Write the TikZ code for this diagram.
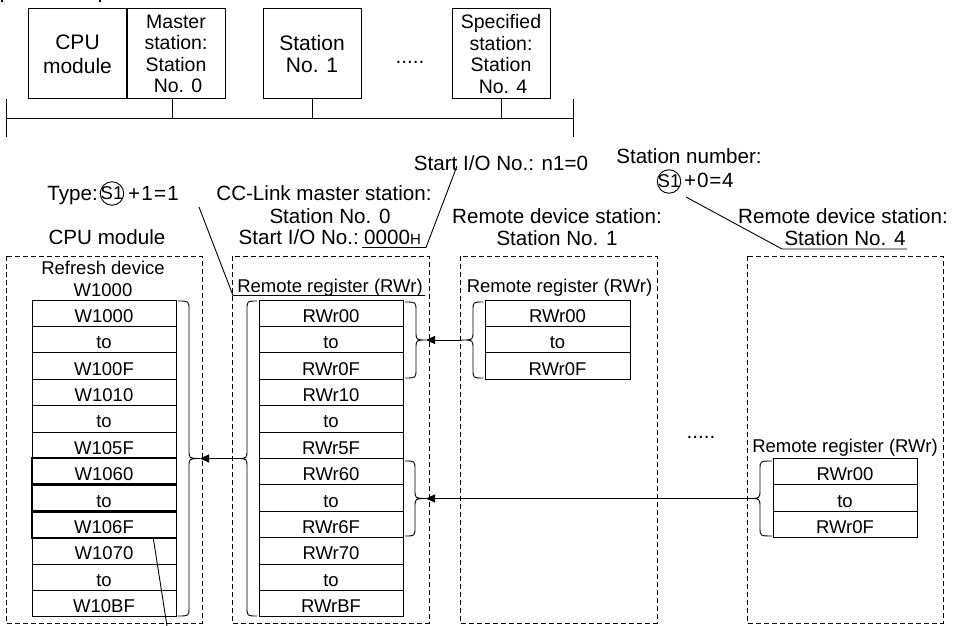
\documentclass[tikz,border=0pt]{standalone}
\usepackage{fontspec}
\setmainfont{Liberation Sans}
\usetikzlibrary{arrows.meta,calc}
\newcommand{\hf}{\fontsize{20.6}{22}\selectfont}
\newcommand{\cf}{\fontsize{18.5}{21}\selectfont}
% brace: x0, y0, y1, xv (spine), xt (tip)
\newcommand{\brc}[5]{%
  \draw[ln] (#1,#2) .. controls (#4,#2) .. (#4,#2+9)
    -- (#4,{(#2+#3)/2-9}) .. controls (#4,{(#2+#3)/2}) .. (#5,{(#2+#3)/2})
    .. controls (#4,{(#2+#3)/2}) .. (#4,{(#2+#3)/2+9})
    -- (#4,#3-9) .. controls (#4,#3) .. (#1,#3);}
\begin{document}
\begin{tikzpicture}[x=1pt,y=-1pt,
  every node/.style={inner sep=0pt, text=black},
  hd/.style={anchor=base, font=\hf},
  rl/.style={anchor=base, font=\cf},
  cell/.style={draw, line width=0.9pt, minimum width=144pt, minimum height=26.4pt,
    text height=18pt, text depth=0pt, font=\cf},
  frame/.style={draw, line width=0.9pt, dash pattern=on 5pt off 3pt},
  topbox/.style={draw, line width=1pt, minimum width=98pt, minimum height=90pt,
    align=center, font=\fontsize{19.5}{21.5}\selectfont},
  ln/.style={line width=0.9pt},
  arr/.style={line width=0.9pt, -{Triangle[length=9pt,width=8pt]}},
  circ/.style={draw, circle, line width=0.9pt, inner sep=-2.5pt, minimum size=23.5pt,
    font=\fontsize{18.5}{18.5}\selectfont},
]
\useasboundingbox (0,0) rectangle (954,626);

% cut-off heading fragments
\draw[line width=1.5pt] (2,0) -- (2,2.5);
\draw[line width=1.5pt] (100,0) -- (100,2.5);

% ---------- system configuration ----------
\node[topbox, font=\fontsize{21}{24}\selectfont] (cpu) at (77.5,54) {CPU\\module};
\node[topbox] (mst) at (176,54) {Master\\station:\\Station\\\hspace{4pt}No. 0};
\node[topbox, font=\fontsize{21}{22.5}\selectfont] (st1) at (312,54) {Station\\No. 1};
\node[font=\hf] (dots1) at (410,62) {.....};
\node[topbox] (spec) at (501,54) {Specified\\station:\\Station\\\hspace{4pt}No. 4};

\coordinate (busL) at (6,118);
\coordinate (busR) at (573,118);
\draw[ln] (6,99) -- (6,137);
\draw[ln] (573,99) -- (573,137);
\draw[ln] (busL) -- (busR);
\draw[ln] ([xshift=-4pt]mst.south) -- ([xshift=-4pt]mst.south |- busL);
\draw[ln] (st1.south) -- (st1.south |- busL);
\draw[ln] (spec.south) -- (spec.south |- busL);

% ---------- frames ----------
\draw[frame] (6,256) rectangle (202,623);
\draw[frame] (232,256) rectangle (429,623);
\draw[frame] (460,256) rectangle (657,623);
\draw[frame] (747,256) rectangle (943,623);

% ---------- headings ----------
\node[hd, anchor=base east] (typ) at (98,200) {Type:};
\node[circ] (s1a) at (112,193.5) {S1};
\node[hd, anchor=base west] (typv) at (128,200) {\addfontfeature{LetterSpace=6}+1=1};

\node[hd] (ccl) at (324,200) {CC-Link master station:};
\node[hd] (ccn) at (330,223) {Station No. 0};
\node[hd, anchor=base east] (sio) at (359,244) {Start I/O No.:};
\node[hd, anchor=base west] (sioh) at (364,244) {0000{\fontsize{15}{15}\selectfont H}};
\node[hd] (n1) at (501,170) {Start I/O No.: n1=0};

\node[hd] (snum) at (689,163) {Station number:};
\node[circ] (s1b) at (669,181.5) {S1};
\node[hd, anchor=base west] (snv) at (684,187) {\addfontfeature{LetterSpace=4}+0=4};

\node[hd] (cpuh) at (107,244) {CPU module};
\node[hd] (rd1) at (557,223) {Remote device station:};
\node[hd] (rd1n) at (557,245) {Station No. 1};
\node[hd] (rd4) at (843,223) {Remote device station:};
\node[hd] (rd4n) at (845,245) {Station No. 4};

\node[rl] (rfd) at (103,274) {Refresh device};
\node[rl] (rfw) at (103,296) {W1000};
\node[rl] (rwm) at (330,292) {Remote register (RWr)};
\node[rl] (rw1) at (559.5,292) {Remote register (RWr)};
\node[rl] (rw4) at (845,452) {Remote register (RWr)};
\node[font=\hf] (dots2) at (701,437) {.....};

% ---------- tables ----------
\foreach \t [count=\i] in {W1000,to,W100F,W1010,to,W105F,W1060,to,W106F,W1070,to,W10BF}
  \node[cell] (c\i) at (104,286.8+26.4*\i) {\t};
\foreach \i in {7,8,9}
  \draw[line width=1.9pt] (c\i.north west) rectangle (c\i.south east);
\foreach \t [count=\i] in {RWr00,to,RWr0F,RWr10,to,RWr5F,RWr60,to,RWr6F,RWr70,to,RWrBF}
  \node[cell] (m\i) at (331,286.8+26.4*\i) {\t};
\foreach \t [count=\i] in {RWr00,to,RWr0F}
  \node[cell, minimum width=145pt] (a\i) at (557.5,286.8+26.4*\i) {\t};
\foreach \t [count=\i] in {RWr00,to,RWr0F}
  \node[cell] (b\i) at (845,445.2+26.4*\i) {\t};

% ---------- braces ----------
\brc{178}{301}{616}{189}{200}
\coordinate (t1) at (200,458.5);
\brc{257}{301}{616}{247}{237}
\coordinate (t2) at (237,458.5);
\brc{405}{302}{378}{416}{426}
\coordinate (t3) at (426,340);
\brc{483}{302}{378}{473}{462}
\coordinate (t4) at (462,340);
\brc{405}{461}{536}{415}{426}
\coordinate (t5) at (426,498.5);
\brc{772}{461}{536}{760}{748}
\coordinate (t6) at (748,498.5);

\draw[arr] (t4) -- (t3);
\draw[arr] (t6) -- (t5);
\draw[arr] (t2) -- (t1);

% ---------- leaders ----------
\coordinate (lt1) at (199,207);
\coordinate (lt2) at (233,295.5);
\coordinate (lt3) at (425,295.5);
\draw[ln] (lt1) -- (lt2) -- (lt3);

\coordinate (u1) at (362,247.5);
\coordinate (u2) at (426,247.5);
\coordinate (u3) at (457,166);
\draw[ln] (u1) -- (u2) -- (u3);

\coordinate (ls1) at (686,197);
\coordinate (ls2) at (782,249);
\coordinate (ls3) at (907,249);
\draw[ln] (ls1) -- (ls2) -- (ls3);

\coordinate (wl) at ($(c9.south west)!0.84!(c9.south east)$);
\coordinate (wend) at (167,626);
\draw[ln] (wl) -- (wend);
\end{tikzpicture}
\end{document}
